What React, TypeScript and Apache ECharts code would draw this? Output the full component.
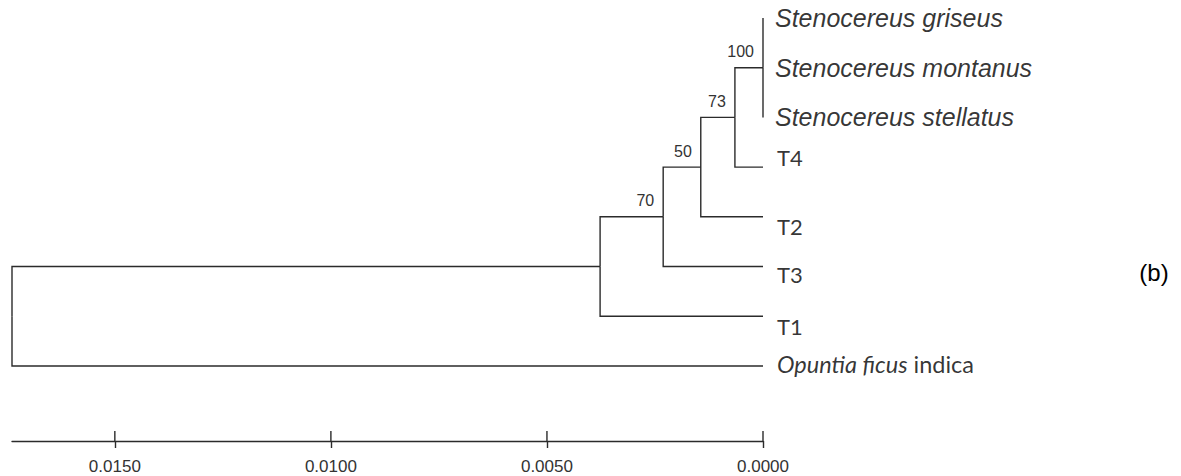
import { useEffect, useRef } from "react";
import * as echarts from "echarts";

// ---------- data ----------
const tipNames = [
  "Stenocereus griseus",
  "Stenocereus montanus",
  "Stenocereus stellatus",
  "T4",
  "T2",
  "T3",
  "T1",
  "Opuntia ficus indica",
];
const nodeNames = ["S", "N73", "N50", "N70", "NT1", "root"];
const nodeHeights = [0.0, 0.00065, 0.00144, 0.00231, 0.00377, 0.01738];
const nodeChildren = [
  ["Stenocereus griseus", "Stenocereus montanus", "Stenocereus stellatus"],
  ["S", "T4"],
  ["N73", "T2"],
  ["N50", "T3"],
  ["N70", "T1"],
  ["NT1", "Opuntia ficus indica"],
];
const bootstrapValues = [100, 73, 50, 70, 0, 0];
const scaleTicks = [0, 0.005, 0.01, 0.015];
const panelLabel = "(b)";

// ---------- layout / style config ----------
const tipLabelNudge: Record<string, number> = {
  T4: -10,
  T2: 10,
  T3: 8,
  T1: 10,
  "Opuntia ficus indica": -2,
};
const LINE = "#2b2b2b";
const Y_MAX = 8.51;

function buildTree() {
  const pos: Record<string, { h: number; y: number }> = {};
  tipNames.forEach((n, i) => (pos[n] = { h: 0, y: i }));
  nodeNames.forEach((n, i) => {
    const ch = nodeChildren[i];
    const y = (pos[ch[0]].y + pos[ch[ch.length - 1]].y) / 2;
    pos[n] = { h: nodeHeights[i], y };
  });
  const segs: number[][] = [];
  nodeNames.forEach((n, i) => {
    nodeChildren[i].forEach((c) => {
      const ni = nodeNames.indexOf(c);
      const support = ni >= 0 ? bootstrapValues[ni] : 0;
      segs.push([pos[n].h, pos[n].y, pos[c].h, pos[c].y, support]);
    });
  });
  return { pos, segs };
}

export default function App() {
  const ref = useRef<HTMLDivElement>(null);
  useEffect(() => {
    if (!ref.current) return;
    const chart = echarts.init(ref.current, undefined, { renderer: "svg" });
    const { pos, segs } = buildTree();
    const xMax = nodeHeights[nodeHeights.length - 1];

    const tipData = tipNames.map((n) => {
      const isSten = n.startsWith("Stenocereus");
      const isOp = n.startsWith("Opuntia");
      return {
        name: n,
        value: [pos[n].h, pos[n].y],
        label: {
          show: true,
          position: "right",
          distance: isSten ? 12 : 14,
          offset: [0, tipLabelNudge[n] || 0],
          fontFamily: isSten ? "Liberation Sans" : "Lato",
          fontStyle: isSten ? "italic" : "normal",
          fontSize: isSten ? 25 : isOp ? 23.5 : 22,
          color: "#000",
          formatter: isOp ? "{i|Opuntia ficus} {n|indica}" : n,
          rich: {
            i: { fontFamily: "Lato", fontStyle: "italic", fontSize: 23.5, color: "#000" },
            n: { fontFamily: "Lato", fontStyle: "normal", fontSize: 23.5, color: "#000" },
          },
        },
      };
    });

    const tickStyle = { color: LINE, width: 1.4 };

    chart.setOption({
      animation: false,
      backgroundColor: "#fff",
      grid: { left: 12, right: 418, top: 18, bottom: 35, containLabel: false, outerBoundsMode: "none" },
      xAxis: {
        type: "value",
        inverse: true,
        min: 0,
        max: xMax,
        position: "bottom",
        axisLine: { show: true, onZero: false, lineStyle: tickStyle },
        axisTick: { show: true, inside: false, length: 7, customValues: scaleTicks, lineStyle: tickStyle },
        axisLabel: {
          show: true,
          customValues: scaleTicks,
          formatter: (v: number) => v.toFixed(4),
          fontFamily: "Liberation Sans",
          fontSize: 17,
          color: "#333",
          margin: 17,
        },
        splitLine: { show: false },
      },
      yAxis: { type: "value", inverse: true, min: 0, max: Y_MAX, show: false, axisLine: { onZero: false } },
      graphic: [
        {
          type: "text",
          x: 1154,
          y: 272,
          style: {
            text: panelLabel,
            fontFamily: "Liberation Sans",
            fontSize: 24,
            fill: "#000",
            align: "center",
            verticalAlign: "middle",
          },
        },
      ],
      series: [
        {
          type: "custom",
          encode: { x: [0, 2], y: [1, 3] },
          data: segs,
          renderItem: (_p: any, api: any) => {
            const a = api.coord([api.value(0), api.value(1)]);
            const b = api.coord([api.value(0), api.value(3)]);
            const c = api.coord([api.value(2), api.value(3)]);
            const children: any[] = [
              {
                type: "polyline",
                shape: { points: [a, b, c] },
                style: { stroke: LINE, lineWidth: 1.4, fill: "none" },
              },
            ];
            const s = api.value(4);
            if (s > 0) {
              children.push({
                type: "text",
                x: c[0] - 9,
                y: c[1] - 16,
                style: {
                  text: String(s),
                  fontFamily: "Liberation Sans",
                  fontSize: 16,
                  fill: "#333",
                  align: "right",
                  verticalAlign: "middle",
                },
              });
            }
            return { type: "group", children };
          },
        },
        {
          // upper half of the scale-bar ticks (ticks cross the axis line)
          type: "custom",
          encode: { x: 0 },
          data: scaleTicks.map((t) => [t]),
          renderItem: (_p: any, api: any) => {
            const p = api.coord([api.value(0), Y_MAX]);
            return {
              type: "line",
              shape: { x1: p[0], y1: p[1], x2: p[0], y2: p[1] - 10 },
              style: { stroke: LINE, lineWidth: 1.4 },
            };
          },
        },
        {
          type: "scatter",
          symbolSize: 0,
          data: tipData,
        },
      ],
    });
    return () => chart.dispose();
  }, []);
  return (
    <div
      ref={ref}
      style={{ position: "absolute", left: 0, top: 0, width: 1181, height: 476, background: "#fff" }}
    />
  );
}
